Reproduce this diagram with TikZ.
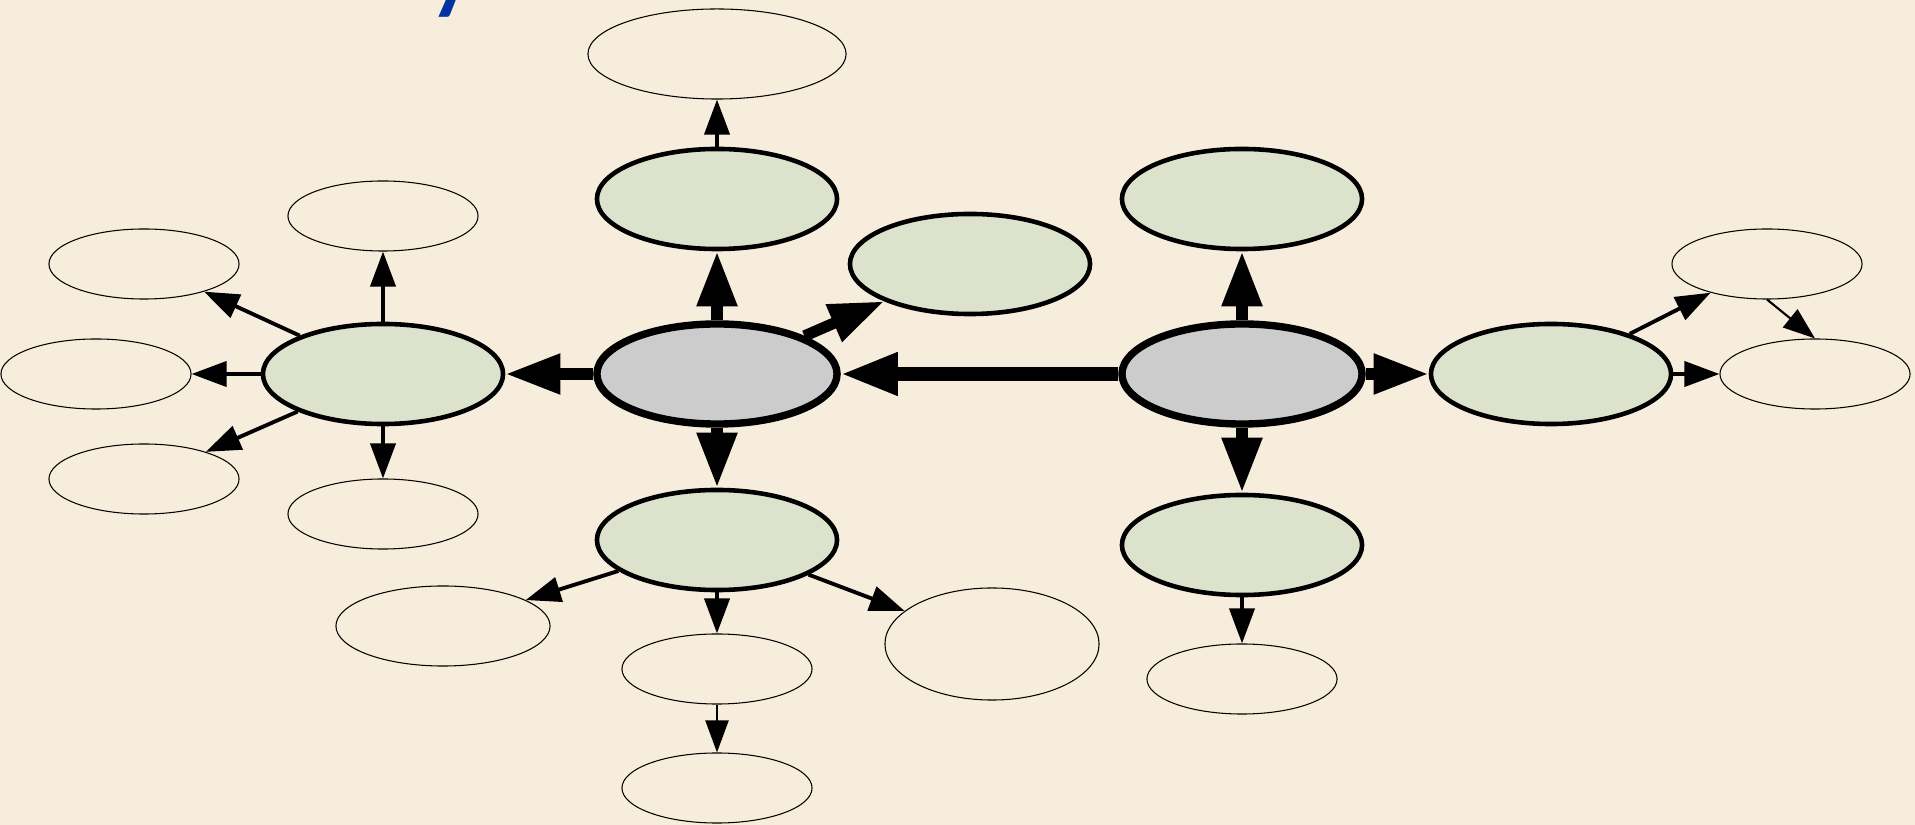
\documentclass[tikz,border=0pt]{standalone}
\usepackage{fontspec}
\usetikzlibrary{shapes.geometric,arrows.meta}
\newfontfamily\titlefont{Carlito}
\definecolor{paper}{RGB}{246,237,220}
\definecolor{leaf}{RGB}{220,226,204}
\definecolor{core}{RGB}{204,204,204}
\definecolor{titleblue}{RGB}{0,51,160}
\begin{document}
\begin{tikzpicture}[x=0.01cm,y=-0.01cm,
    corenode/.style={ellipse,draw,fill=core,line width=2.1pt,minimum width=2.4cm,minimum height=1cm,inner sep=0pt},
    midnode/.style={ellipse,draw,fill=leaf,line width=1.3pt,minimum width=2.4cm,minimum height=1cm,inner sep=0pt},
    leafnode/.style={ellipse,draw,line width=0.3pt,minimum width=1.9cm,minimum height=0.7cm,inner sep=0pt},
    biglink/.style={line width=3.7pt,-{Triangle[length=0.57cm,width=0.4cm]}},
    corelink/.style={line width=3.2pt,-{Triangle[length=0.55cm,width=0.38cm]}},
    link/.style={line width=1.1pt,-{Triangle[length=0.35cm,width=0.25cm]}},
    thinlink/.style={line width=0.6pt,-{Triangle[length=0.32cm,width=0.23cm]}}]
  \useasboundingbox (0,0) rectangle (1915,825);
  \fill[paper] (0,0) rectangle (1915,825);
  \node[anchor=base,text=titleblue,font=\titlefont\bfseries\fontsize{25}{29}\selectfont] (title) at (451,4) {y};

  % two centres
  \node[corenode] (a) at (717,374) {};
  \node[corenode] (b) at (1242,374) {};

  % green ring
  \node[midnode] (atop) at (717,199) {};
  \node[midnode] (ane) at (970,264) {};
  \node[midnode] (aleft) at (383,374) {};
  \node[midnode] (abot) at (717,540) {};
  \node[midnode] (btop) at (1242,199) {};
  \node[midnode] (bright) at (1551,374) {};
  \node[midnode] (bbot) at (1242,545) {};

  % outer ring
  \node[leafnode,minimum width=2.58cm,minimum height=0.9cm] (w0) at (717,54) {};
  \node[leafnode] (l1) at (383,216) {};
  \node[leafnode] (l2) at (144,264) {};
  \node[leafnode] (l3) at (96,374) {};
  \node[leafnode] (l4) at (144,479) {};
  \node[leafnode] (l5) at (383,514) {};
  \node[leafnode,minimum width=2.14cm,minimum height=0.8cm] (d1) at (443,626) {};
  \node[leafnode] (d2) at (717,669) {};
  \node[leafnode] (d3) at (717,788) {};
  \node[leafnode,minimum width=2.14cm,minimum height=1.12cm] (d4) at (992,644) {};
  \node[leafnode] (e1) at (1242,679) {};
  \node[leafnode] (r1) at (1767,264) {};
  \node[leafnode] (r2) at (1815,374) {};

  \draw[biglink] (b) -- (a);
  \begin{scope}[corelink]
    \draw (a) -- (atop);
    \draw (a) -- (ane);
    \draw (a) -- (aleft);
    \draw (a) -- (abot);
    \draw (b) -- (btop);
    \draw (b) -- (bright);
    \draw (b) -- (bbot);
  \end{scope}
  \begin{scope}[link]
    \draw (atop) -- (w0);
    \draw (aleft) -- (l1);
    \draw (aleft) -- (l2);
    \draw (aleft) -- (l3);
    \draw (aleft) -- (l4);
    \draw (aleft) -- (l5);
    \draw (abot) -- (d1);
    \draw (abot) -- (d2);
    \draw (abot) -- (d4);
    \draw (bbot) -- (e1);
    \draw (bright) -- (r1);
    \draw (bright) -- (r2);
  \end{scope}
  \begin{scope}[thinlink]
    \draw (d2) -- (d3);
    \draw (r1.south) -- (r2.north);
  \end{scope}
\end{tikzpicture}
\end{document}
